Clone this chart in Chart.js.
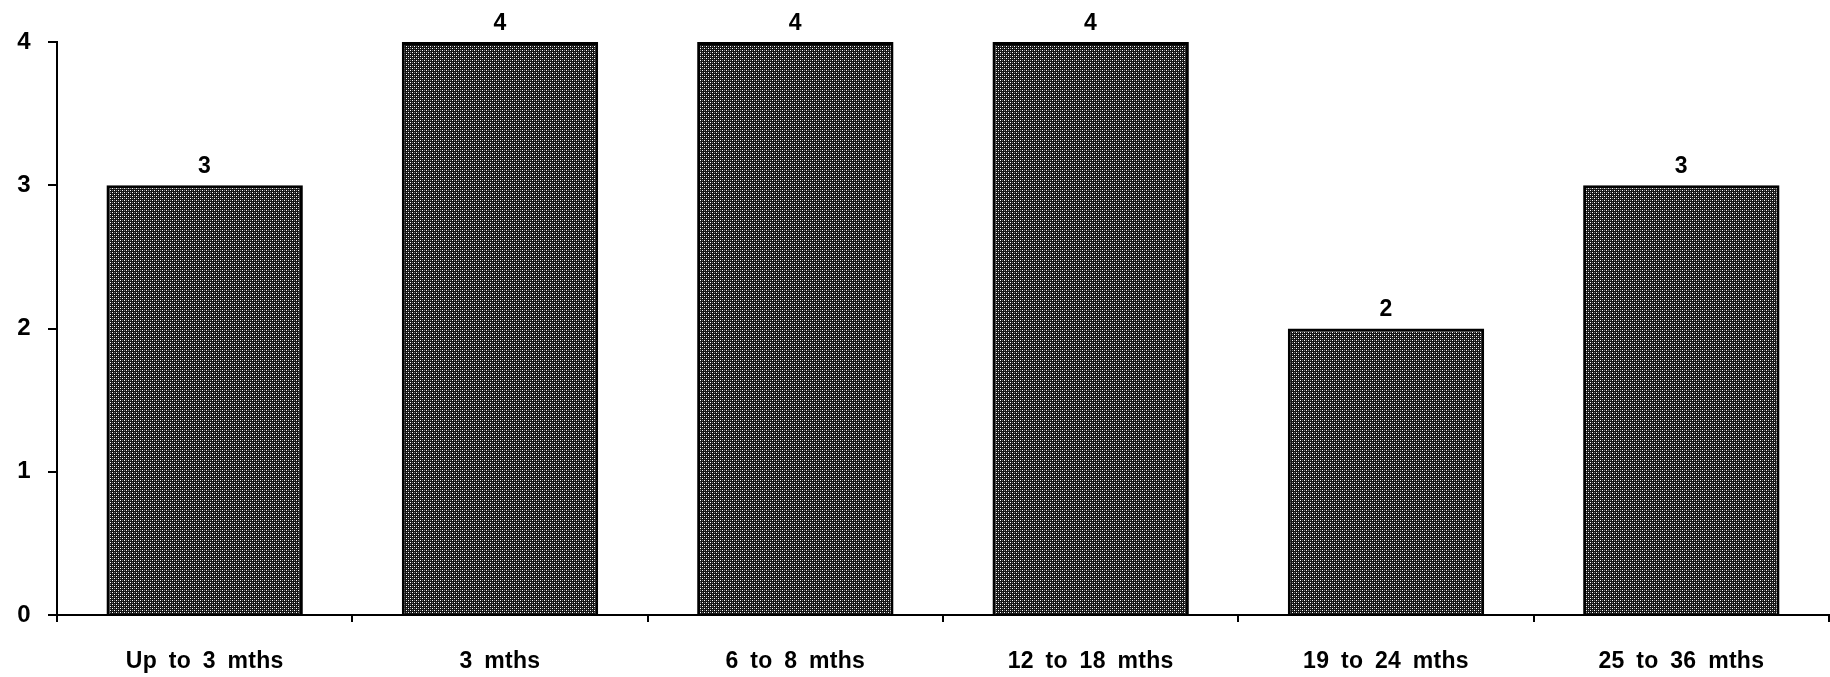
<!DOCTYPE html>
<html><head><meta charset="utf-8">
<script src="https://cdn.jsdelivr.net/npm/chart.js@4"></script>
<style>html,body{margin:0;padding:0;background:#fff}#wrap{width:1830px;height:677px}</style>
</head><body><div id="wrap"><canvas id="c"></canvas></div>
<script>
const categories = ["Up to 3 mths","3 mths","6 to 8 mths","12 to 18 mths","19 to 24 mths","25 to 36 mths"];
const values = [3,4,4,4,2,3];
const yTicks = [0,1,2,3,4];

function makePattern(){
  const p = document.createElement('canvas'); p.width=4; p.height=4;
  const g = p.getContext('2d');
  g.fillStyle='#141414'; g.fillRect(0,0,4,4);
  g.fillStyle='#ffffff'; g.fillRect(0,0,1,1); g.fillRect(2,2,1,1);
  g.fillStyle='#7a7a7a'; g.fillRect(2,0,1,1); g.fillRect(0,2,1,1);
  return g.createPattern(p,'repeat');
}
const font = "'Liberation Sans', Arial, sans-serif";
const spacingPlugin = {
  id:'spacing',
  beforeDraw(chart){ const c=chart.ctx; c.wordSpacing='5px'; c.letterSpacing='0.3px'; }
};
const labelPlugin = {
  id:'vals',
  afterDatasetsDraw(chart){
    const ctx = chart.ctx; const meta = chart.getDatasetMeta(0);
    ctx.save(); ctx.fillStyle='#000'; ctx.font='bold 23px '+font;
    ctx.textAlign='center'; ctx.textBaseline='bottom';
    meta.data.forEach((b,i)=>{ ctx.fillText(String(values[i]), b.x, b.y-7); });
    ctx.restore();
  }
};
new Chart(document.getElementById('c'),{
  type:'bar',
  data:{labels:categories,datasets:[{data:values,backgroundColor:makePattern(),borderColor:'#000',borderWidth:3,barPercentage:0.665,categoryPercentage:1}]},
  options:{
    responsive:true,maintainAspectRatio:false,animation:false,
    layout:{padding:{top:42,right:1,left:0,bottom:0}},
    plugins:{legend:{display:false},tooltip:{enabled:false}},
    scales:{
      x:{offset:true,
        grid:{offset:true,drawOnChartArea:false,drawTicks:true,tickLength:7,color:'#000',lineWidth:2},
        border:{color:'#000',width:2},
        ticks:{color:'#000',font:{family:font,size:23,weight:'bold'},padding:26,maxRotation:0},
        afterFit(s){s.height=62;}
      },
      y:{min:0,max:4,
        afterBuildTicks(s){s.ticks=yTicks.map(v=>({value:v}));},
        grid:{drawOnChartArea:false,drawTicks:true,tickLength:9,color:'#000',lineWidth:2},
        border:{color:'#000',width:2},
        ticks:{color:'#000',font:{family:font,size:24,weight:'bold'},padding:17},
        afterFit(s){s.width=57;}
      }
    }
  },
  plugins:[spacingPlugin,labelPlugin]
});
</script></body></html>
